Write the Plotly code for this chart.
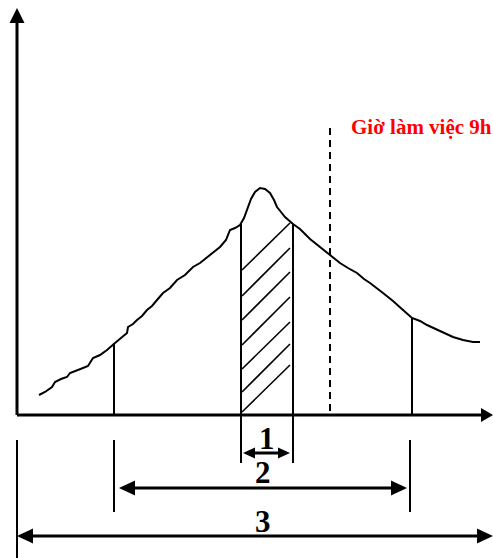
import plotly.graph_objects as go

W, H = 493, 558

# Hand-drawn load curve (diagram units: x to the right, y downward)
curve_x = [39, 45, 52, 55, 61, 67, 70, 76, 83, 88, 93, 100, 107, 115, 121, 127, 128,
           133, 137, 142, 147, 152, 157, 163, 170, 177, 185, 193, 200, 210, 220, 226,
           230, 235, 240, 244, 248, 251, 255, 260, 265, 270, 274, 277, 281, 285, 293,
           300, 310, 320, 330, 340, 348, 357, 364, 370, 383, 393, 403, 412, 420, 427,
           440, 453, 463, 473, 480]
curve_y = [395, 392, 387, 382, 379, 377, 373, 371, 368, 366, 358, 355, 350, 343, 338, 333, 327,
           324, 320, 316, 310, 306, 300, 293, 288, 280, 275, 267, 263, 255, 247, 240,
           230, 228, 225, 218, 207, 199, 192, 188, 189, 193, 200, 207, 212, 217, 224,
           229, 239, 247, 255, 263, 268, 273, 279, 283, 293, 301, 310, 318, 321, 325,
           331, 337, 340, 342, 342]

# Axes
origin_x, origin_y = 17, 415
yaxis_tip = 8
xaxis_tip = 493

# Vertical drop lines from curve to axis
drop_x = [114, 241, 293, 412]
drop_top = [343, 224, 224, 318]

# Hatching in the peak band
hatch_x0, hatch_x1 = 242, 290
hatch_y_left = [270, 296, 320, 345, 369, 392, 412]
hatch_y_right = [223, 248, 272, 297, 322, 344, 365]

# Working-hours marker
dashed_x, dashed_top = 330, 128
marker_label = "Giờ làm việc 9h"

# Dimension lines
dim_labels = ["1", "2", "3"]
dim_y = [453, 488, 536]
dim_x0 = [243, 119, 17]
dim_x1 = [290, 407, 493]
dim_head = [12, 16, 16]
dim_half = [5.5, 7.5, 7.5]
dim_label_x = [267, 263, 263]
dim_label_y = [438, 472, 521]

# Extension lines below axis
ext_x = [17, 114, 241, 293, 410]
ext_y0 = [440, 440, 415, 415, 440]
ext_y1 = [558, 512, 463, 463, 512]

fig = go.Figure()
fig.add_trace(go.Scatter(x=curve_x, y=curve_y, mode="lines",
                         line=dict(color="black", width=2), hoverinfo="skip"))

shapes = []

def line(x0, y0, x1, y1, w=2, dash=None):
    d = dict(type="line", x0=x0, y0=y0, x1=x1, y1=y1, xref="x", yref="y",
             line=dict(color="black", width=w))
    if dash:
        d["line"]["dash"] = dash
    shapes.append(d)

def tri(pts):
    p = "M " + " L ".join(f"{a},{b}" for a, b in pts) + " Z"
    shapes.append(dict(type="path", path=p, xref="x", yref="y",
                       fillcolor="black", line=dict(color="black", width=0)))

# axes
line(origin_x, origin_y, origin_x, yaxis_tip + 12, w=3)
line(origin_x, origin_y, xaxis_tip - 10, origin_y, w=3)
tri([(origin_x, yaxis_tip), (origin_x - 7.5, yaxis_tip + 15), (origin_x + 7.5, yaxis_tip + 15)])
tri([(xaxis_tip, origin_y), (xaxis_tip - 12, origin_y - 7), (xaxis_tip - 12, origin_y + 7)])

# drops
for x, t in zip(drop_x, drop_top):
    line(x, t, x, origin_y, w=2)

# hatching
for yl, yr in zip(hatch_y_left, hatch_y_right):
    line(hatch_x0, yl, hatch_x1, yr, w=1.6)

# dashed working-hours line
line(dashed_x, dashed_top, dashed_x, origin_y, w=2, dash="7px,5px")

# extension lines
for x, a, b in zip(ext_x, ext_y0, ext_y1):
    line(x, a, x, b, w=2)

# dimension arrows
for y, a, b, hl, hw in zip(dim_y, dim_x0, dim_x1, dim_head, dim_half):
    line(a + hl - 2, y, b - hl + 2, y, w=3)
    tri([(a, y), (a + hl, y - hw), (a + hl, y + hw)])
    tri([(b, y), (b - hl, y - hw), (b - hl, y + hw)])

annotations = [dict(x=349, y=127, xref="x", yref="y", text=f"<b>{marker_label}</b>",
                    showarrow=False, xanchor="left", yanchor="middle",
                    font=dict(family="Liberation Serif", size=21, color="#FF0000"))]
for t, x, y in zip(dim_labels, dim_label_x, dim_label_y):
    annotations.append(dict(x=x, y=y, xref="x", yref="y", text=f"<b>{t}</b>",
                            showarrow=False, xanchor="center", yanchor="middle",
                            font=dict(family="Liberation Serif", size=31, color="black")))

fig.update_layout(
    width=W, height=H, margin=dict(l=0, r=0, t=0, b=0),
    paper_bgcolor="white", plot_bgcolor="white", showlegend=False,
    xaxis=dict(range=[0, W], visible=False, fixedrange=True),
    yaxis=dict(range=[H, 0], visible=False, fixedrange=True),
    shapes=shapes, annotations=annotations,
)

fig.write_html("out.html", config={"displayModeBar": False},
               post_script="document.body.style.margin='0';document.body.style.overflow='hidden';")
